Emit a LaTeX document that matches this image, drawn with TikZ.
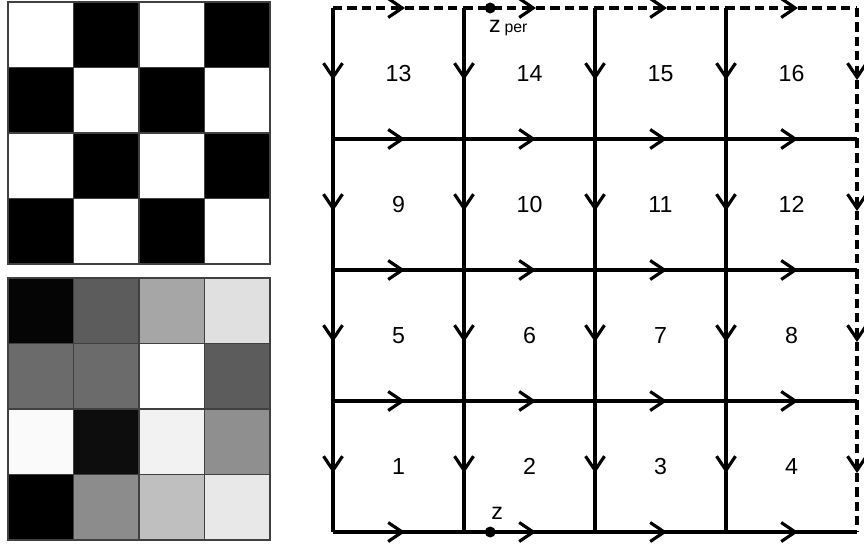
\documentclass[tikz,border=0pt]{standalone}
\usepackage{fontspec}
\setmainfont{Liberation Sans}
\usetikzlibrary{arrows.meta,decorations.markings,calc}

\tikzset{
    gridline/.style={line width=1pt},
    perline/.style={line width=1pt, dash pattern=on 2.6pt off 1.5pt},
    midarrow/.style={postaction={decorate},
        decoration={markings, mark=at position 0.55 with {\arrow{Straight Barb[length=4pt, width=5.4pt, line width=0.9pt]}}}},
    cellbox/.style={draw=black!75, line width=0.3pt},
    celllabel/.style={inner sep=0pt},
}

\begin{document}
\begin{tikzpicture}[font=\fontsize{6.6}{7.5}\selectfont]
    % Fix the page size
    \useasboundingbox (0,0) rectangle (8.64,5.45);

    % Checkerboard (top left)
    \foreach \r in {0,...,3} {
        \foreach \c in {0,...,3} {
            \pgfmathtruncatemacro{\odd}{mod(\r+\c,2)}
            \ifnum\odd=1
                \filldraw[cellbox, fill=black] (0.08+0.655*\c,5.43-0.655*\r) rectangle ++(0.655,-0.655);
            \else
                \filldraw[cellbox, fill=white] (0.08+0.655*\c,5.43-0.655*\r) rectangle ++(0.655,-0.655);
            \fi
        }
    }

    % Gray levels (bottom left)
    \foreach \r/\c/\g in {0/0/98, 0/1/64, 0/2/35, 0/3/12,
                          1/0/58, 1/1/58, 1/2/0,  1/3/64,
                          2/0/2,  2/1/95, 2/2/5,  2/3/44,
                          3/0/100,3/1/45, 3/2/25, 3/3/9} {
        \filldraw[cellbox, fill=black!\g] (0.08+0.655*\c,2.67-0.655*\r) rectangle ++(0.655,-0.655);
    }

    % Grid points
    \foreach \i in {0,...,4} {
        \foreach \j in {0,...,4} {
            \coordinate (g-\i-\j) at (3.33+1.31*\i,0.13+1.31*\j);
        }
    }

    % Horizontal edges
    \foreach \i [count=\ii from 1] in {0,...,3} {
        \foreach \j in {0,...,3} {
            \draw[gridline, midarrow] (g-\i-\j) -- (g-\ii-\j);
        }
        \draw[perline, midarrow] (g-\i-4) -- (g-\ii-4);
    }

    % Vertical edges
    \foreach \j [count=\jj from 1] in {0,...,3} {
        \foreach \i in {0,...,3} {
            \draw[gridline, midarrow] (g-\i-\jj) -- (g-\i-\j);
        }
        \draw[perline, midarrow] (g-4-\jj) -- (g-4-\j);
    }

    % Cell numbers
    \foreach \r in {0,...,3} {
        \foreach \c in {0,...,3} {
            \pgfmathtruncatemacro{\k}{4*\r+\c+1}
            \node[celllabel] (n\k) at ($(g-\c-\r)+(0.655,0.655)$) {\k};
        }
    }

    % Points z and z_per
    \coordinate (z) at ($(g-1-0)!0.2!(g-2-0)$);
    \coordinate (zper) at ($(g-1-4)!0.2!(g-2-4)$);
    \fill (z) circle (0.055);
    \fill (zper) circle (0.055);
    \node[celllabel] (zlab) at ($(z)+(0.07,0.19)$) {z};
    \node[celllabel] (zperlab) at ($(zper)+(0.18,-0.2)$) {z\,{\fontsize{4.5}{5}\selectfont per}};

\end{tikzpicture}
\end{document}
